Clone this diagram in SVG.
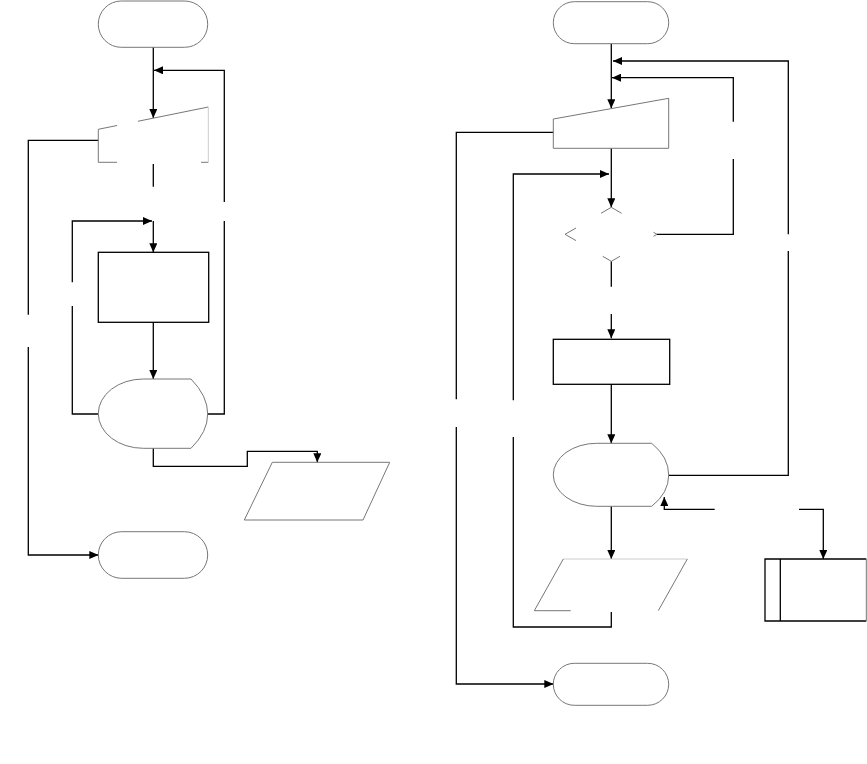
<svg xmlns="http://www.w3.org/2000/svg" width="867" height="764" viewBox="0 0 867 764">
<defs>
<marker id="ah" markerUnits="userSpaceOnUse" markerWidth="9" markerHeight="8" refX="9" refY="4" orient="auto">
<path d="M0,0 L9,4 L0,8 z" fill="#000"/>
</marker>
<style>
.c{fill:none;stroke:#000;stroke-width:1.3}
.a{marker-end:url(#ah)}
.s{fill:none;stroke:#777;stroke-width:1}
.l{fill:none;stroke:#ccc;stroke-width:1}
.b{fill:none;stroke:#000;stroke-width:1.3}
</style>
</defs>
<rect width="867" height="764" fill="#fff"/>
<g id="connectors">
<path class="c a" d="M153.3,47.3 V118"/>
<path class="c a" d="M207.7,414 H224.3 V221 M224.3,202 V70.3 H154"/>
<path class="c" d="M153.3,164 V186.7"/>
<path class="c a" d="M98.3,414 H72.3 V306 M72.3,282.3 V221 H152"/>
<path class="c a" d="M153.3,221 V252.3"/>
<path class="c a" d="M153.3,322.3 V379"/>
<path class="c a" d="M153.3,448.3 V466.3 H247.3 V451.3 H317.3 V462.3"/>
<path class="c a" d="M98.3,140.3 H28.3 V314.7 M28.3,347 V555 H98.3"/>
<path class="c a" d="M611.3,43.7 V108.3"/>
<path class="c a" d="M668.7,475.3 H788.3 V251 M788.3,234.3 V61 H613"/>
<path class="c a" d="M657,234.3 H733.3 V159 M733.3,121.7 V77.7 H612"/>
<path class="c a" d="M553.3,132.3 H456.3 V399.3 M456.3,427 V684 H553.3"/>
<path class="c a" d="M611.3,148.3 V207.3"/>
<path class="c a" d="M611.3,612 V627 H513.3 V437 M513.3,400.3 V174 H609"/>
<path class="c" d="M611.3,261.3 V286.7"/>
<path class="c a" d="M611.3,314 V338.3"/>
<path class="c a" d="M611.3,384.3 V443.3"/>
<path class="c a" d="M611.3,506.3 V559"/>
<path class="c a" d="M714.7,509.3 H664.3 V497"/>
<path class="c a" d="M799,509.3 H823.3 V559"/>
</g>
<g id="start1"><rect class="s" x="98.3" y="1" width="109.4" height="46.3" rx="23" ry="23"/></g>
<g id="input1">
<path class="s" d="M117,125.5 L98.3,129.3 V162.3 H117 M138,121.25 L208.3,107 M201,162.3 H208.3"/>
<path class="l" d="M208.3,107 V162.3"/>
</g>
<g id="process1"><rect class="b" x="98.3" y="252.3" width="110.4" height="70"/></g>
<g id="delay1"><path class="s" d="M143.3,379 H191 Q207.7,396 207.7,414 Q207.7,432 191,448.3 H143.3 A45 34.65 0 0 1 98.3,413.65 A45 34.65 0 0 1 143.3,379 Z"/></g>
<g id="output1"><path class="s" d="M272.3,462.3 H389.7 L363,520 H244.3 Z"/></g>
<g id="end1">
<rect class="s" x="98.3" y="531.7" width="109.4" height="46.6" rx="23.3" ry="23.3"/>
</g>
<g id="start2"><rect class="s" x="553.3" y="1.7" width="115.4" height="42" rx="21" ry="21"/></g>
<g id="input2"><path class="s" d="M553.3,119 L668.7,98.3 V148.3 H553.3 Z"/></g>
<g id="decision2"><path class="s" d="M601,213.3 L611.3,207.3 L621.6,213.3 M576,228 L565,234.3 L576,240.6 M653.5,232.3 L657,234.3 L653.5,236.3 M602.7,256.3 L611.3,261.3 L620,256.3"/></g>
<g id="process2"><rect class="b" x="553.3" y="339.3" width="116.4" height="45"/></g>
<g id="delay2"><path class="s" d="M596.7,443.3 H651.7 Q668.7,457 668.7,475 Q668.7,493 651.7,506.3 H596.7 A43.4 31.5 0 0 1 553.3,474.8 A43.4 31.5 0 0 1 596.7,443.3 Z"/></g>
<g id="output2">
<path class="l" d="M563.3,559 H687.3"/>
<path class="s" d="M563.3,559 L534.3,610.7 H570.7 M687.3,559 L658.3,610.7"/>
</g>
<g id="predef2">
<path class="b" d="M866.3,559 H765 V621 H866.3 M780.3,559 V621"/>
<path class="s" d="M866.3,559 V621"/>
</g>
<g id="end2"><rect class="s" x="553.3" y="663.3" width="115.4" height="42" rx="21" ry="21"/></g>
</svg>
